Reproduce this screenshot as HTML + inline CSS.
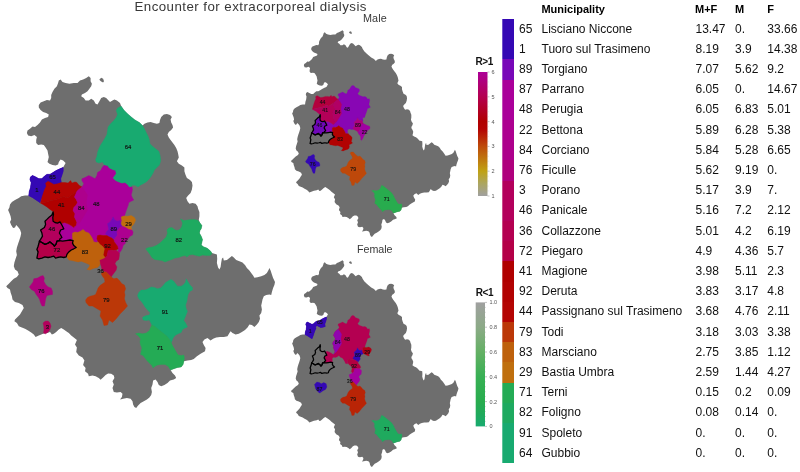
<!DOCTYPE html><html><head><meta charset="utf-8"><title>Encounter for extracorporeal dialysis</title><style>
html,body{margin:0;padding:0;background:#fff}
body{width:800px;height:472px;position:relative;overflow:hidden;font-family:"Liberation Sans",Arial,sans-serif}
.t{position:absolute;white-space:nowrap;color:#111;font-size:12px;line-height:14px}
.h{font-weight:bold;font-size:11px;color:#000}
.ttl{position:absolute;white-space:nowrap;color:#3a3a3a;font-family:"Liberation Sans",Arial,sans-serif}

</style></head><body>
<svg width="800" height="472" viewBox="0 0 800 472" style="position:absolute;left:0;top:0" font-family="Liberation Sans, Arial, sans-serif">
<g><polygon points="32.5,126.5 35.0,126.9 37.5,125.0 40.0,122.5 41.9,119.4 45.0,118.1 48.1,116.9 48.8,114.4 46.2,113.1 43.1,111.9 40.6,110.0 38.8,107.5 38.8,105.0 40.6,102.5 43.8,101.2 46.9,100.0 50.0,100.6 51.2,98.1 51.2,95.0 52.5,91.9 54.4,88.8 56.9,86.2 58.1,83.1 58.8,80.6 60.6,79.4 62.5,81.9 65.6,83.1 69.4,83.8 73.8,83.1 77.5,83.1 80.0,80.6 83.1,79.4 86.2,78.1 88.8,76.2 90.6,78.1 90.6,81.2 91.9,83.8 91.2,86.2 89.4,88.8 87.5,91.2 85.0,93.1 81.9,94.4 81.2,96.2 83.8,98.1 85.6,100.6 88.8,100.6 91.2,98.8 93.8,100.6 95.6,103.8 97.5,104.4 99.4,101.2 101.2,98.1 103.8,96.9 106.2,98.1 108.1,100.0 110.0,101.9 112.5,100.6 114.4,99.4 116.9,100.6 120.0,103.1 121.2,106.2 123.8,110.0 127.5,113.8 131.2,116.9 135.0,120.0 139.4,122.5 142.5,125.6 144.4,123.8 147.5,122.5 150.6,121.9 153.8,123.1 156.9,123.8 159.4,123.1 160.0,120.0 161.2,116.9 163.8,114.4 166.9,114.0 170.0,115.0 171.9,116.9 170.6,119.4 171.2,122.5 172.5,125.0 173.1,127.5 171.2,130.0 168.8,131.9 167.5,134.4 168.8,137.5 170.6,140.0 172.5,142.5 174.4,145.0 176.2,148.1 177.5,151.2 178.1,153.8 178.8,157.5 176.9,161.2 178.8,163.8 181.9,165.6 184.4,167.5 184.4,171.2 185.6,175.0 186.9,178.1 190.0,180.0 191.9,181.9 192.5,185.6 191.9,189.4 190.6,193.1 188.1,195.6 186.2,198.1 187.5,201.2 189.4,203.8 192.5,203.1 195.6,203.8 197.5,206.2 198.1,208.8 199.4,211.9 199.4,216.2 198.8,220.0 200.0,223.1 201.9,225.6 201.2,228.8 200.0,230.6 199.4,233.1 201.2,236.2 202.5,239.4 201.9,242.5 201.2,245.0 203.8,246.9 206.9,248.1 209.4,250.0 211.2,251.9 211.9,253.1 216.9,254.4 217.2,258.8 216.9,263.1 218.1,267.5 219.4,269.4 220.6,266.9 221.2,262.5 221.9,258.8 223.1,257.5 223.8,260.6 226.9,260.0 229.4,258.1 231.9,256.0 233.8,257.5 236.2,260.0 239.4,261.2 242.5,262.5 245.0,265.0 246.9,268.1 249.4,270.6 251.2,273.1 253.1,275.6 254.4,277.8 257.5,277.2 261.2,276.2 264.4,275.0 266.9,273.1 268.8,269.4 269.4,268.1 270.6,270.6 271.9,274.4 273.1,278.1 275.0,281.9 274.4,285.0 273.1,288.1 271.9,291.9 271.2,295.0 269.4,294.4 266.2,295.0 263.8,296.2 262.5,299.4 261.9,302.5 261.2,305.6 261.9,309.4 261.2,313.1 259.4,315.6 260.0,318.8 258.8,321.9 256.9,324.4 254.4,326.9 251.9,325.0 249.4,324.4 247.5,327.5 245.0,330.0 241.9,331.9 238.8,333.8 235.6,334.4 232.5,333.1 230.6,331.2 229.4,333.1 227.5,336.2 223.8,336.9 220.0,336.9 216.2,337.5 213.1,338.8 210.6,340.6 207.5,338.1 204.4,339.4 202.5,341.9 203.8,345.0 205.6,348.1 205.0,351.2 200.6,353.8 196.9,356.2 193.8,359.0 191.2,360.0 187.5,360.6 183.8,361.2 183.1,364.4 181.2,366.9 177.5,367.5 173.8,368.8 170.6,370.0 172.5,373.1 175.0,375.6 176.2,378.1 173.8,379.4 170.0,380.6 167.5,383.1 164.4,385.0 161.2,386.2 158.8,385.0 157.5,381.9 155.6,379.4 153.1,380.6 152.5,384.4 151.2,388.1 151.9,391.9 151.2,395.0 149.4,397.5 146.9,399.4 143.8,401.2 140.6,403.1 138.1,405.6 136.2,408.1 134.4,406.9 133.1,404.4 132.5,401.2 130.6,398.8 126.9,398.1 123.1,398.8 120.0,399.4 121.9,396.9 122.5,393.8 120.6,391.9 116.9,392.5 113.8,391.9 112.5,388.1 113.8,384.4 112.5,381.2 114.4,378.1 113.8,375.6 111.2,373.8 108.1,373.5 105.6,375.0 103.1,377.5 100.6,379.8 98.8,378.1 95.6,376.2 92.5,375.6 88.8,376.2 88.1,373.8 85.0,371.2 85.6,368.1 83.1,365.0 84.4,360.6 82.5,357.5 78.8,355.6 76.2,351.9 76.9,347.5 75.0,344.4 76.9,340.0 73.8,337.5 71.2,335.6 68.8,333.1 66.2,331.2 63.8,329.4 61.2,328.1 58.8,329.4 56.2,331.9 53.8,333.8 51.9,334.4 50.0,331.9 47.5,333.1 43.1,333.8 38.8,335.6 35.6,336.9 33.8,334.4 31.2,332.5 28.1,330.6 25.0,328.8 21.9,327.5 18.8,326.2 16.9,323.1 14.4,321.2 15.0,319.4 17.5,316.9 20.0,314.4 21.9,311.2 23.8,308.1 22.5,305.0 18.8,303.1 15.0,301.9 12.5,299.4 11.9,296.2 10.6,292.5 10.0,289.4 7.5,288.1 6.2,286.2 8.8,283.8 11.2,281.2 13.8,278.8 16.9,276.9 18.8,274.4 17.5,271.2 15.0,269.4 13.8,266.2 14.4,262.5 15.6,258.8 16.9,255.0 16.2,251.2 16.9,247.5 18.1,243.8 19.4,240.0 20.6,236.2 21.2,233.1 20.0,229.4 18.1,226.9 16.2,225.0 15.0,227.5 13.1,228.1 11.2,225.0 10.0,221.9 11.2,219.4 10.6,216.2 9.4,213.1 8.1,210.0 9.4,207.5 10.0,204.4 11.9,201.9 15.0,200.0 18.8,198.1 21.2,196.2 25.0,195.6 28.8,195.6 29.4,191.2 30.6,187.5 31.2,182.5 30.0,179.4 30.6,176.9 32.5,175.6 35.6,176.9 38.8,178.8 41.9,178.8 44.4,176.2 46.9,174.4 50.0,174.4 53.1,172.5 56.2,170.6 60.0,168.8 63.1,167.5 63.8,166.2 65.6,163.1 63.1,160.6 60.6,159.4 58.8,161.9 58.1,164.4 55.6,165.6 52.5,165.0 49.4,163.8 47.5,161.9 48.1,160.0 48.8,156.9 48.1,153.8 47.5,150.6 45.6,147.5 43.8,145.0 41.2,144.4 38.1,145.0 36.2,143.1 36.2,140.0 36.9,136.9 34.4,135.0 31.2,136.2 28.1,135.6 26.9,133.1 27.5,130.6 30.0,128.8" fill="#6e6e6e"/>
<polygon points="99.4,79.4 101.2,77.8 103.1,78.8 104.0,81.2 103.1,82.5 101.2,81.5 100.0,80.6" fill="#6e6e6e"/>
<polygon points="81.9,186.9 83.8,183.8 81.9,180.6 81.9,178.8 85.0,177.5 88.8,175.6 91.9,176.9 95.0,178.8 96.9,175.6 97.5,172.5 100.6,170.6 102.5,166.9 104.4,165.0 107.5,165.6 109.4,168.1 112.5,169.4 115.6,170.6 116.2,173.8 114.4,176.2 113.1,178.1 115.6,180.6 118.8,181.9 121.9,183.1 125.0,182.5 127.5,184.4 129.4,186.9 131.9,186.2 132.5,189.4 131.9,192.5 131.2,195.0 132.5,198.1 133.8,200.0 131.2,201.2 128.8,202.5 128.1,205.6 126.9,208.8 125.6,212.5 124.4,216.2 121.2,216.9 121.9,220.6 121.2,223.8 120.0,220.6 116.9,221.2 114.4,219.4 113.1,216.9 111.9,219.4 110.0,221.9 107.5,223.8 108.1,226.2 108.8,229.4 106.9,231.2 105.6,233.8 106.9,235.6 103.1,235.6 100.0,235.0 97.5,235.6 96.9,238.8 97.5,241.5 96.9,242.5 93.8,241.9 92.5,238.8 90.6,235.6 88.8,233.1 85.6,231.9 83.1,229.4 80.6,231.2 77.5,232.5 75.0,231.9 72.5,233.1 72.5,235.0 72.5,238.1 73.1,240.6 70.0,240.0 66.2,240.6 62.5,241.2 59.4,240.6 60.0,238.8 61.9,237.5 60.6,235.0 59.4,233.1 60.6,230.0 63.8,228.8 62.5,226.2 61.2,223.8 64.4,222.5 68.1,223.8 71.2,225.6 73.8,227.5 76.2,225.6 76.9,222.5 75.6,219.4 74.4,216.9 75.0,213.8 73.1,210.6 73.8,207.5 76.2,205.0 77.5,202.5 76.2,199.4 74.4,196.9 75.6,194.4 76.9,191.2 78.8,189.4 81.9,186.9" fill="#aa009a" stroke="#aa009a" stroke-width="0.4"/>
<polygon points="121.2,106.2 123.8,110.0 127.5,113.8 131.2,116.9 135.0,120.0 139.4,122.5 142.5,125.6 144.4,128.8 146.2,132.5 148.1,136.2 149.4,140.0 150.0,143.8 152.5,146.2 155.6,148.8 158.8,151.2 160.0,155.0 160.6,159.0 160.6,161.2 159.4,165.0 156.9,167.5 154.4,170.0 153.1,173.1 151.2,176.2 148.8,179.4 146.2,181.9 143.1,183.8 140.6,185.0 138.1,186.9 135.6,185.6 132.5,185.0 131.9,186.2 129.4,186.9 127.5,184.4 125.0,182.5 121.9,183.1 118.8,181.9 115.6,180.6 113.1,178.1 114.4,176.2 116.2,173.8 115.6,170.6 112.5,169.4 109.4,168.1 107.5,165.6 104.4,165.0 102.5,161.9 98.8,163.1 96.2,161.9 95.6,159.4 96.9,156.2 97.5,152.5 98.8,148.8 100.6,145.0 103.1,141.2 105.0,138.1 106.9,134.4 107.5,130.6 108.1,126.9 110.6,123.8 113.8,120.6 116.2,117.5 117.5,114.4 116.2,110.6 117.5,108.1" fill="#18aa70" stroke="#18aa70" stroke-width="0.4"/>
<polygon points="30.6,176.9 32.5,175.6 35.6,176.9 38.8,178.8 41.9,178.8 44.4,176.2 46.9,174.4 50.0,174.4 53.1,172.5 56.2,170.6 60.0,168.8 63.1,167.5 63.1,171.2 61.9,175.0 60.6,178.8 61.2,182.5 57.5,183.8 53.8,184.4 50.6,182.5 48.1,181.2 45.6,183.1 46.2,186.2 44.4,190.0 43.1,193.8 41.9,197.5 40.0,202.5 36.2,200.0 32.5,197.5 28.8,195.6 29.4,191.2 30.6,187.5 31.2,182.5 30.0,179.4" fill="#3408b4" stroke="#3408b4" stroke-width="0.4"/>
<polygon points="30.6,176.9 32.5,175.6 35.6,176.9 38.8,178.8 41.9,178.8 44.4,176.2 46.9,174.4 50.0,174.4 53.1,172.5 56.2,170.6 60.0,168.8 63.1,167.5 63.1,171.2 61.9,175.0 60.6,178.8 61.2,182.5 57.5,183.8 53.8,184.4 50.6,182.5 48.1,181.2 45.6,183.1 46.2,186.2 44.4,190.0 43.1,193.8 41.9,197.5 40.0,202.5 36.2,200.0 32.5,197.5 28.8,195.6 29.4,191.2 30.6,187.5 31.2,182.5 30.0,179.4" fill="#3408b4" stroke="#3408b4" stroke-width="0.4"/>
<polygon points="45.6,183.1 48.1,181.2 50.6,182.5 53.8,184.4 57.5,183.8 61.2,182.5 65.0,182.5 68.1,183.1 70.6,180.6 71.9,183.1 75.0,181.9 76.9,182.5 78.8,185.0 81.9,186.9 78.8,189.4 76.9,191.2 76.9,191.2 74.4,193.1 71.2,195.0 68.1,197.5 66.2,198.1 64.4,196.2 61.2,197.5 56.2,199.4 51.2,200.6 46.2,201.9 40.6,203.1 41.9,197.5 43.1,193.8 44.4,190.0 46.2,186.2" fill="#b40503" stroke="#b40503" stroke-width="0.4"/>
<polygon points="40.6,203.1 46.2,201.9 51.2,200.6 56.2,199.4 61.2,197.5 64.4,196.2 66.2,198.1 68.1,197.5 71.2,195.0 74.4,193.1 76.9,191.2 75.6,194.4 74.4,196.9 76.2,199.4 77.5,202.5 76.2,205.0 73.8,207.5 73.1,210.6 75.0,213.8 74.4,216.9 75.6,219.4 76.9,222.5 76.2,225.6 73.8,227.5 71.2,225.6 68.1,223.8 64.4,222.5 61.2,223.8 60.0,221.9 57.5,223.1 55.0,222.5 53.1,221.2 52.8,217.5 53.5,214.4 53.1,211.5 50.0,209.4 46.9,206.9 43.8,205.0 40.6,203.1" fill="#b00000" stroke="#b00000" stroke-width="0.4"/>
<polygon points="81.9,186.9 78.8,189.4 76.9,191.2 75.6,194.4 74.4,196.9 76.2,199.4 77.5,202.5 76.2,205.0 73.8,207.5 73.1,210.6 75.0,213.8 74.4,216.9 75.6,219.4 76.9,222.5 76.2,225.6 73.8,227.5 76.2,226.2 80.0,222.5 83.8,216.2 87.5,210.0 86.2,202.5 87.5,195.0 85.0,191.2" fill="#ad008c" stroke="#ad008c" stroke-width="0.4"/>
<polygon points="113.1,216.9 114.4,219.4 116.9,221.2 120.0,220.6 121.2,223.8 122.5,226.2 120.0,227.5 118.1,229.4 116.9,231.9 117.5,235.0 115.6,237.5 113.8,240.0 111.9,238.1 109.4,236.9 106.9,235.6 105.6,233.8 106.9,231.2 108.8,229.4 108.1,226.2 107.5,223.8 110.0,221.9 111.9,219.4" fill="#7808b8" stroke="#7808b8" stroke-width="0.4"/>
<polygon points="121.2,216.9 123.8,216.0 127.5,216.2 131.2,215.6 134.4,217.5 135.6,220.0 134.4,223.1 133.1,225.0 131.2,226.9 131.9,230.0 128.8,229.4 125.6,227.5 122.5,226.2 121.2,223.8 121.9,220.6" fill="#bf6f0e" stroke="#bf6f0e" stroke-width="0.4"/>
<polygon points="122.5,226.2 125.6,227.5 128.8,229.4 131.9,230.0 133.1,231.9 132.5,235.0 130.0,236.2 128.1,238.8 126.2,241.2 125.0,243.8 123.1,245.6 122.5,248.1 121.2,250.6 119.4,253.1 118.1,251.9 118.1,248.8 117.5,246.2 115.6,243.8 113.8,241.2 113.8,240.0 115.6,237.5 117.5,235.0 116.9,231.9 118.1,229.4 120.0,227.5" fill="#ad0090" stroke="#ad0090" stroke-width="0.4"/>
<polygon points="97.5,235.6 100.0,235.0 103.1,235.6 106.9,235.6 109.4,236.9 111.9,238.1 113.8,240.0 113.8,241.2 115.6,243.8 117.5,246.2 118.1,248.8 116.2,250.0 113.8,250.6 111.2,250.0 109.4,251.2 107.5,253.1 106.9,256.2 105.0,257.5 103.1,255.0 103.8,251.9 104.4,248.8 102.5,246.2 100.0,244.4 98.1,241.9 96.9,238.8" fill="#b20202" stroke="#b20202" stroke-width="0.4"/>
<polygon points="108.1,250.6 111.2,250.0 113.8,250.6 116.2,250.0 118.1,251.9 119.4,253.1 119.4,255.6 118.8,259.4 116.2,261.2 115.0,263.8 116.9,266.9 116.2,270.0 114.4,272.5 112.5,275.0 111.2,276.9 108.8,274.4 106.2,271.9 103.8,271.2 101.9,269.4 101.2,266.2 100.0,263.1 99.4,260.0 102.5,258.8 105.0,257.5 106.9,256.2 107.5,253.1" fill="#b40051" stroke="#b40051" stroke-width="0.4"/>
<polygon points="72.5,233.1 75.0,231.9 77.5,232.5 80.6,231.2 83.1,229.4 85.6,231.9 88.8,233.1 90.6,235.6 92.5,238.8 93.8,241.9 96.9,242.5 98.1,241.9 100.0,244.4 102.5,246.2 104.4,248.8 103.8,251.9 103.1,255.0 105.0,257.5 102.5,258.8 99.4,260.0 100.0,263.1 99.4,265.6 97.5,267.5 95.0,268.1 92.5,268.8 90.0,270.0 86.9,269.4 88.8,267.5 90.0,265.0 87.5,263.8 84.4,262.5 81.2,261.2 78.1,261.9 75.0,261.2 71.9,260.6 68.8,260.0 66.9,256.9 66.9,254.4 68.8,251.9 71.2,250.0 73.8,248.8 76.2,247.5 73.8,245.6 72.5,243.1 73.1,240.6 72.5,238.1 72.5,235.0" fill="#be610c" stroke="#be610c" stroke-width="0.4"/>
<polygon points="53.1,211.9 51.9,215.0 49.4,216.9 46.9,219.4 45.0,221.2 45.6,224.4 44.4,227.5 40.6,230.0 41.9,233.1 42.5,236.2 40.6,239.4 39.4,241.2 41.9,242.5 45.0,244.4 48.1,243.1 50.0,241.9 53.1,244.4 54.4,246.2 56.2,243.8 56.9,241.2 59.4,240.6 60.0,238.8 61.9,237.5 60.6,235.0 59.4,233.1 60.6,230.0 63.8,228.8 62.5,226.2 61.2,223.8 60.0,221.9 57.5,223.1 55.0,222.5 53.1,221.2 52.8,217.5 53.5,214.4" fill="#b3005c" stroke="#b3005c" stroke-width="0.4"/>
<polygon points="39.4,241.2 41.9,242.5 45.0,244.4 48.1,243.1 50.0,241.9 53.1,244.4 54.4,246.2 56.2,243.8 56.9,241.2 59.4,240.6 62.5,241.2 66.2,240.6 70.0,240.0 73.1,240.6 72.5,243.1 73.8,245.6 76.2,247.5 73.8,248.8 71.2,250.0 68.8,251.9 66.9,254.4 66.2,256.9 63.8,257.5 60.6,256.9 57.5,257.5 55.6,258.1 53.8,256.2 51.2,256.9 48.1,257.5 45.0,256.9 41.9,258.1 38.8,258.8 36.9,258.1 37.5,255.0 38.1,251.9 36.9,249.4 38.1,246.2 38.8,243.8" fill="#b40048" stroke="#b40048" stroke-width="0.4"/>
<polygon points="145.6,248.8 148.8,247.5 152.5,246.9 156.2,245.6 160.0,243.1 163.1,240.0 166.2,236.9 167.5,233.1 166.9,230.0 168.8,228.1 171.9,227.5 174.4,229.4 176.9,230.6 180.0,229.4 181.9,226.2 182.5,223.1 181.2,220.0 180.6,218.8 183.8,220.6 187.5,220.0 191.2,219.4 195.0,219.4 198.1,220.6 200.0,223.1 201.9,225.6 201.2,228.8 200.0,230.6 199.4,233.1 201.2,236.2 202.5,239.4 201.9,242.5 201.2,245.0 203.8,246.9 206.9,248.1 209.4,250.0 211.2,251.9 211.9,253.8 210.0,255.6 206.2,255.6 202.5,255.0 199.4,256.2 196.2,255.6 192.5,254.4 189.4,255.0 186.9,256.9 185.0,255.6 181.9,256.2 178.8,257.5 175.0,258.1 171.9,259.4 168.8,260.6 165.0,261.9 161.9,260.6 158.1,260.0 154.4,259.4 151.9,257.5 150.0,254.4 148.1,251.9" fill="#1eaa60" stroke="#1eaa60" stroke-width="0.4"/>
<polygon points="29.4,286.9 31.2,284.4 33.1,281.9 33.8,278.8 37.5,278.1 40.6,276.2 43.1,275.6 44.4,278.1 43.8,281.2 45.6,284.4 48.1,286.9 51.2,288.1 52.5,291.2 52.5,294.4 49.4,295.0 46.9,295.6 45.6,299.0 45.0,303.0 44.4,306.0 42.0,306.0 40.6,303.0 39.4,299.0 38.1,296.9 36.2,294.4 34.4,291.2 31.2,289.4" fill="#af007d" stroke="#af007d" stroke-width="0.4"/>
<polygon points="43.1,323.1 45.0,321.2 48.1,321.0 50.0,323.1 51.0,326.2 50.0,329.4 48.1,331.9 45.6,333.8 43.5,333.1 44.0,330.0 43.8,326.2" fill="#b3005c" stroke="#b3005c" stroke-width="0.4"/>
<polygon points="101.2,273.8 102.5,271.9 106.2,271.9 108.8,274.4 111.2,276.9 113.8,278.8 116.9,278.1 119.4,280.6 121.9,283.8 124.4,285.0 125.6,288.8 124.4,291.9 125.0,295.0 124.4,298.8 125.6,302.5 127.5,306.0 124.0,310.0 120.0,314.0 116.0,319.0 112.5,322.5 109.0,320.0 107.5,325.0 104.0,325.5 102.5,320.0 100.0,316.0 101.0,311.0 97.5,309.0 92.5,306.0 89.0,306.0 86.0,302.5 85.6,300.0 87.5,297.5 90.0,296.2 93.1,295.6 95.6,294.4 96.9,291.2 98.1,288.1 100.0,285.6 102.5,283.8 105.0,281.9 104.4,278.8 102.5,276.2" fill="#bb3808" stroke="#bb3808" stroke-width="0.4"/>
<polygon points="137.5,295.6 138.8,292.5 141.2,290.0 145.0,290.0 148.1,288.8 151.2,286.9 154.4,287.5 157.5,288.8 160.6,288.1 163.1,285.6 165.6,282.5 168.8,280.6 171.2,279.4 173.8,281.2 175.6,283.8 177.5,286.2 181.2,286.2 183.8,284.4 185.6,281.9 186.2,278.8 188.1,281.9 190.0,285.0 192.5,287.5 192.5,290.0 190.0,291.2 188.1,294.4 187.5,297.5 186.9,301.2 185.6,305.0 186.2,308.8 187.5,311.2 186.2,314.4 185.0,317.5 183.8,320.6 185.6,323.1 187.5,326.9 185.0,328.1 182.5,329.4 181.2,332.5 178.1,333.8 175.0,335.6 173.1,338.1 171.9,341.2 171.2,342.5 169.4,339.4 166.9,336.2 163.8,333.8 160.6,331.2 157.5,328.8 154.4,326.2 151.9,325.0 150.6,322.5 149.4,320.0 146.2,320.6 143.1,320.0 142.5,317.5 143.1,316.9 146.2,315.6 149.4,315.0 150.0,312.5 147.5,310.0 145.0,306.9 143.1,303.8 141.2,301.2 138.8,298.8" fill="#18aa70" stroke="#18aa70" stroke-width="0.4"/>
<polygon points="135.6,333.8 138.8,333.1 142.5,333.8 146.2,333.1 149.4,330.6 150.6,327.5 151.9,325.0 154.4,326.2 157.5,328.8 160.6,331.2 163.8,333.8 166.9,336.2 169.4,339.4 171.2,342.5 172.5,345.6 174.4,348.8 176.2,351.9 178.1,355.0 181.2,355.6 183.8,355.0 184.4,358.1 183.8,361.2 183.1,364.4 181.2,366.9 177.5,367.5 173.8,368.8 170.6,370.0 168.1,366.2 165.0,364.4 161.2,364.4 157.5,365.0 155.0,366.2 153.1,368.1 151.9,365.6 149.4,363.1 146.9,360.6 145.0,358.1 143.1,355.6 140.6,354.4 141.2,351.2 141.9,348.1 140.6,345.0 140.0,341.9 140.6,338.8 138.8,336.2" fill="#24ab55" stroke="#24ab55" stroke-width="0.4"/>
<polygon points="53.1,211.9 51.9,215.0 49.4,216.9 46.9,219.4 45.0,221.2 45.6,224.4 44.4,227.5 40.6,230.0 41.9,233.1 42.5,236.2 40.6,239.4 39.4,241.2 41.9,242.5 45.0,244.4 48.1,243.1 50.0,241.9 53.1,244.4 54.4,246.2 56.2,243.8 56.9,241.2 59.4,240.6 60.0,238.8 61.9,237.5 60.6,235.0 59.4,233.1 60.6,230.0 63.8,228.8 62.5,226.2 61.2,223.8 60.0,221.9 57.5,223.1 55.0,222.5 53.1,221.2 52.8,217.5 53.5,214.4" fill="none" stroke="#000" stroke-width="1.3" stroke-linejoin="round"/>
<polygon points="39.4,241.2 41.9,242.5 45.0,244.4 48.1,243.1 50.0,241.9 53.1,244.4 54.4,246.2 56.2,243.8 56.9,241.2 59.4,240.6 62.5,241.2 66.2,240.6 70.0,240.0 73.1,240.6 72.5,243.1 73.8,245.6 76.2,247.5 73.8,248.8 71.2,250.0 68.8,251.9 66.9,254.4 66.2,256.9 63.8,257.5 60.6,256.9 57.5,257.5 55.6,258.1 53.8,256.2 51.2,256.9 48.1,257.5 45.0,256.9 41.9,258.1 38.8,258.8 36.9,258.1 37.5,255.0 38.1,251.9 36.9,249.4 38.1,246.2 38.8,243.8" fill="none" stroke="#000" stroke-width="1.3" stroke-linejoin="round"/>
<text x="96.2" y="205.6" font-size="5.9" text-anchor="middle" fill="#101010" stroke="#101010" stroke-width="0.15">48</text>
<text x="128.1" y="149.0" font-size="5.9" text-anchor="middle" fill="#101010" stroke="#101010" stroke-width="0.15">64</text>
<text x="36.9" y="191.8" font-size="5.9" text-anchor="middle" fill="#101010" stroke="#101010" stroke-width="0.15">1</text>
<text x="52.5" y="178.6" font-size="5.9" text-anchor="middle" fill="#101010" stroke="#101010" stroke-width="0.15">65</text>
<text x="56.9" y="194.3" font-size="5.9" text-anchor="middle" fill="#101010" stroke="#101010" stroke-width="0.15">44</text>
<text x="61.2" y="206.8" font-size="5.9" text-anchor="middle" fill="#101010" stroke="#101010" stroke-width="0.15">41</text>
<text x="81.2" y="209.6" font-size="5.9" text-anchor="middle" fill="#101010" stroke="#101010" stroke-width="0.15">84</text>
<text x="113.8" y="230.8" font-size="5.9" text-anchor="middle" fill="#101010" stroke="#101010" stroke-width="0.15">89</text>
<text x="128.5" y="225.5" font-size="5.9" text-anchor="middle" fill="#101010" stroke="#101010" stroke-width="0.15">29</text>
<text x="124.4" y="241.7" font-size="5.9" text-anchor="middle" fill="#101010" stroke="#101010" stroke-width="0.15">22</text>
<text x="107.5" y="248.3" font-size="5.9" text-anchor="middle" fill="#101010" stroke="#101010" stroke-width="0.15">92</text>
<text x="100.6" y="272.7" font-size="5.9" text-anchor="middle" fill="#101010" stroke="#101010" stroke-width="0.15">36</text>
<text x="85.0" y="253.6" font-size="5.9" text-anchor="middle" fill="#101010" stroke="#101010" stroke-width="0.15">83</text>
<text x="51.9" y="230.8" font-size="5.9" text-anchor="middle" fill="#101010" stroke="#101010" stroke-width="0.15">46</text>
<text x="56.9" y="251.5" font-size="5.9" text-anchor="middle" fill="#101010" stroke="#101010" stroke-width="0.15">72</text>
<text x="178.8" y="242.1" font-size="5.9" text-anchor="middle" fill="#101010" stroke="#101010" stroke-width="0.15">82</text>
<text x="41.2" y="293.3" font-size="5.9" text-anchor="middle" fill="#101010" stroke="#101010" stroke-width="0.15">76</text>
<text x="47.5" y="329.1" font-size="5.9" text-anchor="middle" fill="#101010" stroke="#101010" stroke-width="0.15">3</text>
<text x="106.2" y="301.5" font-size="5.9" text-anchor="middle" fill="#101010" stroke="#101010" stroke-width="0.15">79</text>
<text x="165.0" y="313.8" font-size="5.9" text-anchor="middle" fill="#101010" stroke="#101010" stroke-width="0.15">91</text>
<text x="160.0" y="349.6" font-size="5.9" text-anchor="middle" fill="#101010" stroke="#101010" stroke-width="0.15">71</text></g>
<g transform="translate(287.1,-17.3) scale(0.623)"><polygon points="32.5,126.5 35.0,126.9 37.5,125.0 40.0,122.5 41.9,119.4 45.0,118.1 48.1,116.9 48.8,114.4 46.2,113.1 43.1,111.9 40.6,110.0 38.8,107.5 38.8,105.0 40.6,102.5 43.8,101.2 46.9,100.0 50.0,100.6 51.2,98.1 51.2,95.0 52.5,91.9 54.4,88.8 56.9,86.2 58.1,83.1 58.8,80.6 60.6,79.4 62.5,81.9 65.6,83.1 69.4,83.8 73.8,83.1 77.5,83.1 80.0,80.6 83.1,79.4 86.2,78.1 88.8,76.2 90.6,78.1 90.6,81.2 91.9,83.8 91.2,86.2 89.4,88.8 87.5,91.2 85.0,93.1 81.9,94.4 81.2,96.2 83.8,98.1 85.6,100.6 88.8,100.6 91.2,98.8 93.8,100.6 95.6,103.8 97.5,104.4 99.4,101.2 101.2,98.1 103.8,96.9 106.2,98.1 108.1,100.0 110.0,101.9 112.5,100.6 114.4,99.4 116.9,100.6 120.0,103.1 121.2,106.2 123.8,110.0 127.5,113.8 131.2,116.9 135.0,120.0 139.4,122.5 142.5,125.6 144.4,123.8 147.5,122.5 150.6,121.9 153.8,123.1 156.9,123.8 159.4,123.1 160.0,120.0 161.2,116.9 163.8,114.4 166.9,114.0 170.0,115.0 171.9,116.9 170.6,119.4 171.2,122.5 172.5,125.0 173.1,127.5 171.2,130.0 168.8,131.9 167.5,134.4 168.8,137.5 170.6,140.0 172.5,142.5 174.4,145.0 176.2,148.1 177.5,151.2 178.1,153.8 178.8,157.5 176.9,161.2 178.8,163.8 181.9,165.6 184.4,167.5 184.4,171.2 185.6,175.0 186.9,178.1 190.0,180.0 191.9,181.9 192.5,185.6 191.9,189.4 190.6,193.1 188.1,195.6 186.2,198.1 187.5,201.2 189.4,203.8 192.5,203.1 195.6,203.8 197.5,206.2 198.1,208.8 199.4,211.9 199.4,216.2 198.8,220.0 200.0,223.1 201.9,225.6 201.2,228.8 200.0,230.6 199.4,233.1 201.2,236.2 202.5,239.4 201.9,242.5 201.2,245.0 203.8,246.9 206.9,248.1 209.4,250.0 211.2,251.9 211.9,253.1 216.9,254.4 217.2,258.8 216.9,263.1 218.1,267.5 219.4,269.4 220.6,266.9 221.2,262.5 221.9,258.8 223.1,257.5 223.8,260.6 226.9,260.0 229.4,258.1 231.9,256.0 233.8,257.5 236.2,260.0 239.4,261.2 242.5,262.5 245.0,265.0 246.9,268.1 249.4,270.6 251.2,273.1 253.1,275.6 254.4,277.8 257.5,277.2 261.2,276.2 264.4,275.0 266.9,273.1 268.8,269.4 269.4,268.1 270.6,270.6 271.9,274.4 273.1,278.1 275.0,281.9 274.4,285.0 273.1,288.1 271.9,291.9 271.2,295.0 269.4,294.4 266.2,295.0 263.8,296.2 262.5,299.4 261.9,302.5 261.2,305.6 261.9,309.4 261.2,313.1 259.4,315.6 260.0,318.8 258.8,321.9 256.9,324.4 254.4,326.9 251.9,325.0 249.4,324.4 247.5,327.5 245.0,330.0 241.9,331.9 238.8,333.8 235.6,334.4 232.5,333.1 230.6,331.2 229.4,333.1 227.5,336.2 223.8,336.9 220.0,336.9 216.2,337.5 213.1,338.8 210.6,340.6 207.5,338.1 204.4,339.4 202.5,341.9 203.8,345.0 205.6,348.1 205.0,351.2 200.6,353.8 196.9,356.2 193.8,359.0 191.2,360.0 187.5,360.6 183.8,361.2 183.1,364.4 181.2,366.9 177.5,367.5 173.8,368.8 170.6,370.0 172.5,373.1 175.0,375.6 176.2,378.1 173.8,379.4 170.0,380.6 167.5,383.1 164.4,385.0 161.2,386.2 158.8,385.0 157.5,381.9 155.6,379.4 153.1,380.6 152.5,384.4 151.2,388.1 151.9,391.9 151.2,395.0 149.4,397.5 146.9,399.4 143.8,401.2 140.6,403.1 138.1,405.6 136.2,408.1 134.4,406.9 133.1,404.4 132.5,401.2 130.6,398.8 126.9,398.1 123.1,398.8 120.0,399.4 121.9,396.9 122.5,393.8 120.6,391.9 116.9,392.5 113.8,391.9 112.5,388.1 113.8,384.4 112.5,381.2 114.4,378.1 113.8,375.6 111.2,373.8 108.1,373.5 105.6,375.0 103.1,377.5 100.6,379.8 98.8,378.1 95.6,376.2 92.5,375.6 88.8,376.2 88.1,373.8 85.0,371.2 85.6,368.1 83.1,365.0 84.4,360.6 82.5,357.5 78.8,355.6 76.2,351.9 76.9,347.5 75.0,344.4 76.9,340.0 73.8,337.5 71.2,335.6 68.8,333.1 66.2,331.2 63.8,329.4 61.2,328.1 58.8,329.4 56.2,331.9 53.8,333.8 51.9,334.4 50.0,331.9 47.5,333.1 43.1,333.8 38.8,335.6 35.6,336.9 33.8,334.4 31.2,332.5 28.1,330.6 25.0,328.8 21.9,327.5 18.8,326.2 16.9,323.1 14.4,321.2 15.0,319.4 17.5,316.9 20.0,314.4 21.9,311.2 23.8,308.1 22.5,305.0 18.8,303.1 15.0,301.9 12.5,299.4 11.9,296.2 10.6,292.5 10.0,289.4 7.5,288.1 6.2,286.2 8.8,283.8 11.2,281.2 13.8,278.8 16.9,276.9 18.8,274.4 17.5,271.2 15.0,269.4 13.8,266.2 14.4,262.5 15.6,258.8 16.9,255.0 16.2,251.2 16.9,247.5 18.1,243.8 19.4,240.0 20.6,236.2 21.2,233.1 20.0,229.4 18.1,226.9 16.2,225.0 15.0,227.5 13.1,228.1 11.2,225.0 10.0,221.9 11.2,219.4 10.6,216.2 9.4,213.1 8.1,210.0 9.4,207.5 10.0,204.4 11.9,201.9 15.0,200.0 18.8,198.1 21.2,196.2 25.0,195.6 28.8,195.6 29.4,191.2 30.6,187.5 31.2,182.5 30.0,179.4 30.6,176.9 32.5,175.6 35.6,176.9 38.8,178.8 41.9,178.8 44.4,176.2 46.9,174.4 50.0,174.4 53.1,172.5 56.2,170.6 60.0,168.8 63.1,167.5 63.8,166.2 65.6,163.1 63.1,160.6 60.6,159.4 58.8,161.9 58.1,164.4 55.6,165.6 52.5,165.0 49.4,163.8 47.5,161.9 48.1,160.0 48.8,156.9 48.1,153.8 47.5,150.6 45.6,147.5 43.8,145.0 41.2,144.4 38.1,145.0 36.2,143.1 36.2,140.0 36.9,136.9 34.4,135.0 31.2,136.2 28.1,135.6 26.9,133.1 27.5,130.6 30.0,128.8" fill="#6e6e6e"/>
<polygon points="99.4,79.4 101.2,77.8 103.1,78.8 104.0,81.2 103.1,82.5 101.2,81.5 100.0,80.6" fill="#6e6e6e"/>
<polygon points="81.9,186.9 83.8,183.8 81.9,180.6 81.9,178.8 85.0,177.5 88.8,175.6 91.9,176.9 95.0,178.8 96.9,175.6 97.5,172.5 100.6,170.6 102.5,166.9 104.4,165.0 107.5,165.6 109.4,168.1 112.5,169.4 115.6,170.6 116.2,173.8 114.4,176.2 113.1,178.1 115.6,180.6 118.8,181.9 121.9,183.1 125.0,182.5 127.5,184.4 129.4,186.9 131.9,186.2 132.5,189.4 131.9,192.5 131.2,195.0 132.5,198.1 133.8,200.0 131.2,201.2 128.8,202.5 128.1,205.6 126.9,208.8 125.6,212.5 124.4,216.2 121.2,216.9 121.9,220.6 121.2,223.8 120.0,220.6 116.9,221.2 114.4,219.4 113.1,216.9 111.9,219.4 110.0,221.9 107.5,223.8 108.1,226.2 108.8,229.4 106.9,231.2 105.6,233.8 106.9,235.6 103.1,235.6 100.0,235.0 97.5,235.6 96.9,238.8 97.5,241.5 96.9,242.5 93.8,241.9 92.5,238.8 90.6,235.6 88.8,233.1 85.6,231.9 83.1,229.4 80.6,231.2 77.5,232.5 75.0,231.9 72.5,233.1 72.5,235.0 72.5,238.1 73.1,240.6 70.0,240.0 66.2,240.6 62.5,241.2 59.4,240.6 60.0,238.8 61.9,237.5 60.6,235.0 59.4,233.1 60.6,230.0 63.8,228.8 62.5,226.2 61.2,223.8 64.4,222.5 68.1,223.8 71.2,225.6 73.8,227.5 76.2,225.6 76.9,222.5 75.6,219.4 74.4,216.9 75.0,213.8 73.1,210.6 73.8,207.5 76.2,205.0 77.5,202.5 76.2,199.4 74.4,196.9 75.6,194.4 76.9,191.2 78.8,189.4 81.9,186.9" fill="#8806b4" stroke="#8806b4" stroke-width="0.4"/>
<polygon points="45.6,183.1 48.1,181.2 50.6,182.5 53.8,184.4 57.5,183.8 61.2,182.5 65.0,182.5 68.1,183.1 70.6,180.6 71.9,183.1 75.0,181.9 76.9,182.5 78.8,185.0 81.9,186.9 78.8,189.4 76.9,191.2 76.9,191.2 74.4,193.1 71.2,195.0 68.1,197.5 66.2,198.1 64.4,196.2 61.2,197.5 56.2,199.4 51.2,200.6 46.2,201.9 40.6,203.1 41.9,197.5 43.1,193.8 44.4,190.0 46.2,186.2" fill="#b3003d" stroke="#b3003d" stroke-width="0.4"/>
<polygon points="40.6,203.1 46.2,201.9 51.2,200.6 56.2,199.4 61.2,197.5 64.4,196.2 66.2,198.1 68.1,197.5 71.2,195.0 74.4,193.1 76.9,191.2 75.6,194.4 74.4,196.9 76.2,199.4 77.5,202.5 76.2,205.0 73.8,207.5 73.1,210.6 75.0,213.8 74.4,216.9 75.6,219.4 76.9,222.5 76.2,225.6 73.8,227.5 71.2,225.6 68.1,223.8 64.4,222.5 61.2,223.8 60.0,221.9 57.5,223.1 55.0,222.5 53.1,221.2 52.8,217.5 53.5,214.4 53.1,211.5 50.0,209.4 46.9,206.9 43.8,205.0 40.6,203.1" fill="#b30058" stroke="#b30058" stroke-width="0.4"/>
<polygon points="81.9,186.9 78.8,189.4 76.9,191.2 75.6,194.4 74.4,196.9 76.2,199.4 77.5,202.5 76.2,205.0 73.8,207.5 73.1,210.6 75.0,213.8 74.4,216.9 75.6,219.4 76.9,222.5 76.2,225.6 73.8,227.5 76.2,226.2 80.0,222.5 83.8,216.2 87.5,210.0 86.2,202.5 87.5,195.0 85.0,191.2" fill="#b20064" stroke="#b20064" stroke-width="0.4"/>
<polygon points="113.1,216.9 114.4,219.4 116.9,221.2 120.0,220.6 121.2,223.8 122.5,226.2 120.0,227.5 118.1,229.4 116.9,231.9 117.5,235.0 115.6,237.5 113.8,240.0 111.9,238.1 109.4,236.9 106.9,235.6 105.6,233.8 106.9,231.2 108.8,229.4 108.1,226.2 107.5,223.8 110.0,221.9 111.9,219.4" fill="#af007d" stroke="#af007d" stroke-width="0.4"/>
<polygon points="122.5,226.2 125.6,227.5 128.8,229.4 131.9,230.0 133.1,231.9 132.5,235.0 130.0,236.2 128.1,238.8 126.2,241.2 125.0,243.8 123.1,245.6 122.5,248.1 121.2,250.6 119.4,253.1 118.1,251.9 118.1,248.8 117.5,246.2 115.6,243.8 113.8,241.2 113.8,240.0 115.6,237.5 117.5,235.0 116.9,231.9 118.1,229.4 120.0,227.5" fill="#a002a2" stroke="#a002a2" stroke-width="0.4"/>
<polygon points="53.1,211.9 51.9,215.0 49.4,216.9 46.9,219.4 45.0,221.2 45.6,224.4 44.4,227.5 40.6,230.0 41.9,233.1 42.5,236.2 40.6,239.4 39.4,241.2 41.9,242.5 45.0,244.4 48.1,243.1 50.0,241.9 53.1,244.4 54.4,246.2 56.2,243.8 56.9,241.2 59.4,240.6 60.0,238.8 61.9,237.5 60.6,235.0 59.4,233.1 60.6,230.0 63.8,228.8 62.5,226.2 61.2,223.8 60.0,221.9 57.5,223.1 55.0,222.5 53.1,221.2 52.8,217.5 53.5,214.4" fill="#6f08b8" stroke="#6f08b8" stroke-width="0.4"/>
<polygon points="39.4,241.2 41.9,242.5 45.0,244.4 48.1,243.1 50.0,241.9 53.1,244.4 54.4,246.2 56.2,243.8 56.9,241.2 59.4,240.6 62.5,241.2 66.2,240.6 70.0,240.0 73.1,240.6 72.5,243.1 73.8,245.6 76.2,247.5 73.8,248.8 71.2,250.0 68.8,251.9 66.9,254.4 66.2,256.9 63.8,257.5 60.6,256.9 57.5,257.5 55.6,258.1 53.8,256.2 51.2,256.9 48.1,257.5 45.0,256.9 41.9,258.1 38.8,258.8 36.9,258.1 37.5,255.0 38.1,251.9 36.9,249.4 38.1,246.2 38.8,243.8" fill="#6e6e6e" stroke="#6e6e6e" stroke-width="0.4"/>
<polygon points="72.5,233.1 75.0,231.9 77.5,232.5 80.6,231.2 83.1,229.4 85.6,231.9 88.8,233.1 90.6,235.6 92.5,238.8 93.8,241.9 96.9,242.5 98.1,241.9 100.0,244.4 102.5,246.2 104.4,248.8 103.8,251.9 103.1,255.0 105.0,257.5 102.5,258.8 99.4,260.0 100.0,263.1 99.4,265.6 97.5,267.5 95.0,268.1 92.5,268.8 90.0,270.0 86.9,269.4 88.8,267.5 90.0,265.0 87.5,263.8 84.4,262.5 81.2,261.2 78.1,261.9 75.0,261.2 71.9,260.6 68.8,260.0 66.9,256.9 66.9,254.4 68.8,251.9 71.2,250.0 73.8,248.8 76.2,247.5 73.8,245.6 72.5,243.1 73.1,240.6 72.5,238.1 72.5,235.0" fill="#b20202" stroke="#b20202" stroke-width="0.4"/>
<polygon points="29.4,286.9 31.2,284.4 33.1,281.9 33.8,278.8 37.5,278.1 40.6,276.2 43.1,275.6 44.4,278.1 43.8,281.2 45.6,284.4 48.1,286.9 51.2,288.1 52.5,291.2 52.5,294.4 49.4,295.0 46.9,295.6 45.6,299.0 45.0,303.0 44.4,306.0 42.0,306.0 40.6,303.0 39.4,299.0 38.1,296.9 36.2,294.4 34.4,291.2 31.2,289.4" fill="#3408b4" stroke="#3408b4" stroke-width="0.4"/>
<polygon points="101.2,273.8 102.5,271.9 106.2,271.9 108.8,274.4 111.2,276.9 113.8,278.8 116.9,278.1 119.4,280.6 121.9,283.8 124.4,285.0 125.6,288.8 124.4,291.9 125.0,295.0 124.4,298.8 125.6,302.5 127.5,306.0 124.0,310.0 120.0,314.0 116.0,319.0 112.5,322.5 109.0,320.0 107.5,325.0 104.0,325.5 102.5,320.0 100.0,316.0 101.0,311.0 97.5,309.0 92.5,306.0 89.0,306.0 86.0,302.5 85.6,300.0 87.5,297.5 90.0,296.2 93.1,295.6 95.6,294.4 96.9,291.2 98.1,288.1 100.0,285.6 102.5,283.8 105.0,281.9 104.4,278.8 102.5,276.2" fill="#be480a" stroke="#be480a" stroke-width="0.4"/>
<polygon points="135.6,333.8 138.8,333.1 142.5,333.8 146.2,333.1 149.4,330.6 150.6,327.5 151.9,325.0 154.4,326.2 157.5,328.8 160.6,331.2 163.8,333.8 166.9,336.2 169.4,339.4 171.2,342.5 172.5,345.6 174.4,348.8 176.2,351.9 178.1,355.0 181.2,355.6 183.8,355.0 184.4,358.1 183.8,361.2 183.1,364.4 181.2,366.9 177.5,367.5 173.8,368.8 170.6,370.0 168.1,366.2 165.0,364.4 161.2,364.4 157.5,365.0 155.0,366.2 153.1,368.1 151.9,365.6 149.4,363.1 146.9,360.6 145.0,358.1 143.1,355.6 140.6,354.4 141.2,351.2 141.9,348.1 140.6,345.0 140.0,341.9 140.6,338.8 138.8,336.2" fill="#28ac4e" stroke="#28ac4e" stroke-width="0.4"/>
<polygon points="53.1,211.9 51.9,215.0 49.4,216.9 46.9,219.4 45.0,221.2 45.6,224.4 44.4,227.5 40.6,230.0 41.9,233.1 42.5,236.2 40.6,239.4 39.4,241.2 41.9,242.5 45.0,244.4 48.1,243.1 50.0,241.9 53.1,244.4 54.4,246.2 56.2,243.8 56.9,241.2 59.4,240.6 60.0,238.8 61.9,237.5 60.6,235.0 59.4,233.1 60.6,230.0 63.8,228.8 62.5,226.2 61.2,223.8 60.0,221.9 57.5,223.1 55.0,222.5 53.1,221.2 52.8,217.5 53.5,214.4" fill="none" stroke="#000" stroke-width="2.0" stroke-linejoin="round"/>
<polygon points="39.4,241.2 41.9,242.5 45.0,244.4 48.1,243.1 50.0,241.9 53.1,244.4 54.4,246.2 56.2,243.8 56.9,241.2 59.4,240.6 62.5,241.2 66.2,240.6 70.0,240.0 73.1,240.6 72.5,243.1 73.8,245.6 76.2,247.5 73.8,248.8 71.2,250.0 68.8,251.9 66.9,254.4 66.2,256.9 63.8,257.5 60.6,256.9 57.5,257.5 55.6,258.1 53.8,256.2 51.2,256.9 48.1,257.5 45.0,256.9 41.9,258.1 38.8,258.8 36.9,258.1 37.5,255.0 38.1,251.9 36.9,249.4 38.1,246.2 38.8,243.8" fill="none" stroke="#000" stroke-width="2.0" stroke-linejoin="round"/>
<text x="96.2" y="206.4" font-size="8.4" text-anchor="middle" fill="#101010" stroke="#101010" stroke-width="0.15">48</text>
<text x="56.9" y="195.2" font-size="8.4" text-anchor="middle" fill="#101010" stroke="#101010" stroke-width="0.15">44</text>
<text x="61.2" y="207.7" font-size="8.4" text-anchor="middle" fill="#101010" stroke="#101010" stroke-width="0.15">41</text>
<text x="81.2" y="210.4" font-size="8.4" text-anchor="middle" fill="#101010" stroke="#101010" stroke-width="0.15">84</text>
<text x="113.8" y="231.7" font-size="8.4" text-anchor="middle" fill="#101010" stroke="#101010" stroke-width="0.15">89</text>
<text x="124.4" y="242.5" font-size="8.4" text-anchor="middle" fill="#101010" stroke="#101010" stroke-width="0.15">22</text>
<text x="51.9" y="231.7" font-size="8.4" text-anchor="middle" fill="#101010" stroke="#101010" stroke-width="0.15">46</text>
<text x="85.0" y="254.4" font-size="8.4" text-anchor="middle" fill="#101010" stroke="#101010" stroke-width="0.15">83</text>
<text x="41.2" y="294.2" font-size="8.4" text-anchor="middle" fill="#101010" stroke="#101010" stroke-width="0.15">76</text>
<text x="106.2" y="302.3" font-size="8.4" text-anchor="middle" fill="#101010" stroke="#101010" stroke-width="0.15">79</text>
<text x="160.0" y="350.4" font-size="8.4" text-anchor="middle" fill="#101010" stroke="#101010" stroke-width="0.15">71</text></g>
<g transform="translate(287.1,212.7) scale(0.623)"><polygon points="32.5,126.5 35.0,126.9 37.5,125.0 40.0,122.5 41.9,119.4 45.0,118.1 48.1,116.9 48.8,114.4 46.2,113.1 43.1,111.9 40.6,110.0 38.8,107.5 38.8,105.0 40.6,102.5 43.8,101.2 46.9,100.0 50.0,100.6 51.2,98.1 51.2,95.0 52.5,91.9 54.4,88.8 56.9,86.2 58.1,83.1 58.8,80.6 60.6,79.4 62.5,81.9 65.6,83.1 69.4,83.8 73.8,83.1 77.5,83.1 80.0,80.6 83.1,79.4 86.2,78.1 88.8,76.2 90.6,78.1 90.6,81.2 91.9,83.8 91.2,86.2 89.4,88.8 87.5,91.2 85.0,93.1 81.9,94.4 81.2,96.2 83.8,98.1 85.6,100.6 88.8,100.6 91.2,98.8 93.8,100.6 95.6,103.8 97.5,104.4 99.4,101.2 101.2,98.1 103.8,96.9 106.2,98.1 108.1,100.0 110.0,101.9 112.5,100.6 114.4,99.4 116.9,100.6 120.0,103.1 121.2,106.2 123.8,110.0 127.5,113.8 131.2,116.9 135.0,120.0 139.4,122.5 142.5,125.6 144.4,123.8 147.5,122.5 150.6,121.9 153.8,123.1 156.9,123.8 159.4,123.1 160.0,120.0 161.2,116.9 163.8,114.4 166.9,114.0 170.0,115.0 171.9,116.9 170.6,119.4 171.2,122.5 172.5,125.0 173.1,127.5 171.2,130.0 168.8,131.9 167.5,134.4 168.8,137.5 170.6,140.0 172.5,142.5 174.4,145.0 176.2,148.1 177.5,151.2 178.1,153.8 178.8,157.5 176.9,161.2 178.8,163.8 181.9,165.6 184.4,167.5 184.4,171.2 185.6,175.0 186.9,178.1 190.0,180.0 191.9,181.9 192.5,185.6 191.9,189.4 190.6,193.1 188.1,195.6 186.2,198.1 187.5,201.2 189.4,203.8 192.5,203.1 195.6,203.8 197.5,206.2 198.1,208.8 199.4,211.9 199.4,216.2 198.8,220.0 200.0,223.1 201.9,225.6 201.2,228.8 200.0,230.6 199.4,233.1 201.2,236.2 202.5,239.4 201.9,242.5 201.2,245.0 203.8,246.9 206.9,248.1 209.4,250.0 211.2,251.9 211.9,253.1 216.9,254.4 217.2,258.8 216.9,263.1 218.1,267.5 219.4,269.4 220.6,266.9 221.2,262.5 221.9,258.8 223.1,257.5 223.8,260.6 226.9,260.0 229.4,258.1 231.9,256.0 233.8,257.5 236.2,260.0 239.4,261.2 242.5,262.5 245.0,265.0 246.9,268.1 249.4,270.6 251.2,273.1 253.1,275.6 254.4,277.8 257.5,277.2 261.2,276.2 264.4,275.0 266.9,273.1 268.8,269.4 269.4,268.1 270.6,270.6 271.9,274.4 273.1,278.1 275.0,281.9 274.4,285.0 273.1,288.1 271.9,291.9 271.2,295.0 269.4,294.4 266.2,295.0 263.8,296.2 262.5,299.4 261.9,302.5 261.2,305.6 261.9,309.4 261.2,313.1 259.4,315.6 260.0,318.8 258.8,321.9 256.9,324.4 254.4,326.9 251.9,325.0 249.4,324.4 247.5,327.5 245.0,330.0 241.9,331.9 238.8,333.8 235.6,334.4 232.5,333.1 230.6,331.2 229.4,333.1 227.5,336.2 223.8,336.9 220.0,336.9 216.2,337.5 213.1,338.8 210.6,340.6 207.5,338.1 204.4,339.4 202.5,341.9 203.8,345.0 205.6,348.1 205.0,351.2 200.6,353.8 196.9,356.2 193.8,359.0 191.2,360.0 187.5,360.6 183.8,361.2 183.1,364.4 181.2,366.9 177.5,367.5 173.8,368.8 170.6,370.0 172.5,373.1 175.0,375.6 176.2,378.1 173.8,379.4 170.0,380.6 167.5,383.1 164.4,385.0 161.2,386.2 158.8,385.0 157.5,381.9 155.6,379.4 153.1,380.6 152.5,384.4 151.2,388.1 151.9,391.9 151.2,395.0 149.4,397.5 146.9,399.4 143.8,401.2 140.6,403.1 138.1,405.6 136.2,408.1 134.4,406.9 133.1,404.4 132.5,401.2 130.6,398.8 126.9,398.1 123.1,398.8 120.0,399.4 121.9,396.9 122.5,393.8 120.6,391.9 116.9,392.5 113.8,391.9 112.5,388.1 113.8,384.4 112.5,381.2 114.4,378.1 113.8,375.6 111.2,373.8 108.1,373.5 105.6,375.0 103.1,377.5 100.6,379.8 98.8,378.1 95.6,376.2 92.5,375.6 88.8,376.2 88.1,373.8 85.0,371.2 85.6,368.1 83.1,365.0 84.4,360.6 82.5,357.5 78.8,355.6 76.2,351.9 76.9,347.5 75.0,344.4 76.9,340.0 73.8,337.5 71.2,335.6 68.8,333.1 66.2,331.2 63.8,329.4 61.2,328.1 58.8,329.4 56.2,331.9 53.8,333.8 51.9,334.4 50.0,331.9 47.5,333.1 43.1,333.8 38.8,335.6 35.6,336.9 33.8,334.4 31.2,332.5 28.1,330.6 25.0,328.8 21.9,327.5 18.8,326.2 16.9,323.1 14.4,321.2 15.0,319.4 17.5,316.9 20.0,314.4 21.9,311.2 23.8,308.1 22.5,305.0 18.8,303.1 15.0,301.9 12.5,299.4 11.9,296.2 10.6,292.5 10.0,289.4 7.5,288.1 6.2,286.2 8.8,283.8 11.2,281.2 13.8,278.8 16.9,276.9 18.8,274.4 17.5,271.2 15.0,269.4 13.8,266.2 14.4,262.5 15.6,258.8 16.9,255.0 16.2,251.2 16.9,247.5 18.1,243.8 19.4,240.0 20.6,236.2 21.2,233.1 20.0,229.4 18.1,226.9 16.2,225.0 15.0,227.5 13.1,228.1 11.2,225.0 10.0,221.9 11.2,219.4 10.6,216.2 9.4,213.1 8.1,210.0 9.4,207.5 10.0,204.4 11.9,201.9 15.0,200.0 18.8,198.1 21.2,196.2 25.0,195.6 28.8,195.6 29.4,191.2 30.6,187.5 31.2,182.5 30.0,179.4 30.6,176.9 32.5,175.6 35.6,176.9 38.8,178.8 41.9,178.8 44.4,176.2 46.9,174.4 50.0,174.4 53.1,172.5 56.2,170.6 60.0,168.8 63.1,167.5 63.8,166.2 65.6,163.1 63.1,160.6 60.6,159.4 58.8,161.9 58.1,164.4 55.6,165.6 52.5,165.0 49.4,163.8 47.5,161.9 48.1,160.0 48.8,156.9 48.1,153.8 47.5,150.6 45.6,147.5 43.8,145.0 41.2,144.4 38.1,145.0 36.2,143.1 36.2,140.0 36.9,136.9 34.4,135.0 31.2,136.2 28.1,135.6 26.9,133.1 27.5,130.6 30.0,128.8" fill="#6e6e6e"/>
<polygon points="99.4,79.4 101.2,77.8 103.1,78.8 104.0,81.2 103.1,82.5 101.2,81.5 100.0,80.6" fill="#6e6e6e"/>
<polygon points="81.9,186.9 83.8,183.8 81.9,180.6 81.9,178.8 85.0,177.5 88.8,175.6 91.9,176.9 95.0,178.8 96.9,175.6 97.5,172.5 100.6,170.6 102.5,166.9 104.4,165.0 107.5,165.6 109.4,168.1 112.5,169.4 115.6,170.6 116.2,173.8 114.4,176.2 113.1,178.1 115.6,180.6 118.8,181.9 121.9,183.1 125.0,182.5 127.5,184.4 129.4,186.9 131.9,186.2 132.5,189.4 131.9,192.5 131.2,195.0 132.5,198.1 133.8,200.0 131.2,201.2 128.8,202.5 128.1,205.6 126.9,208.8 125.6,212.5 124.4,216.2 121.2,216.9 121.9,220.6 121.2,223.8 120.0,220.6 116.9,221.2 114.4,219.4 113.1,216.9 111.9,219.4 110.0,221.9 107.5,223.8 108.1,226.2 108.8,229.4 106.9,231.2 105.6,233.8 106.9,235.6 103.1,235.6 100.0,235.0 97.5,235.6 96.9,238.8 97.5,241.5 96.9,242.5 93.8,241.9 92.5,238.8 90.6,235.6 88.8,233.1 85.6,231.9 83.1,229.4 80.6,231.2 77.5,232.5 75.0,231.9 72.5,233.1 72.5,235.0 72.5,238.1 73.1,240.6 70.0,240.0 66.2,240.6 62.5,241.2 59.4,240.6 60.0,238.8 61.9,237.5 60.6,235.0 59.4,233.1 60.6,230.0 63.8,228.8 62.5,226.2 61.2,223.8 64.4,222.5 68.1,223.8 71.2,225.6 73.8,227.5 76.2,225.6 76.9,222.5 75.6,219.4 74.4,216.9 75.0,213.8 73.1,210.6 73.8,207.5 76.2,205.0 77.5,202.5 76.2,199.4 74.4,196.9 75.6,194.4 76.9,191.2 78.8,189.4 81.9,186.9" fill="#b40051" stroke="#b40051" stroke-width="0.4"/>
<polygon points="30.6,176.9 32.5,175.6 35.6,176.9 38.8,178.8 41.9,178.8 44.4,176.2 46.9,174.4 50.0,174.4 53.1,172.5 56.2,170.6 60.0,168.8 63.1,167.5 63.1,171.2 61.9,175.0 60.6,178.8 61.2,182.5 57.5,183.8 53.8,184.4 50.6,182.5 48.1,181.2 45.6,183.1 46.2,186.2 44.4,190.0 43.1,193.8 41.9,197.5 40.0,202.5 36.2,200.0 32.5,197.5 28.8,195.6 29.4,191.2 30.6,187.5 31.2,182.5 30.0,179.4" fill="#3408b4" stroke="#3408b4" stroke-width="0.4"/>
<polygon points="30.6,176.9 32.5,175.6 35.6,176.9 38.8,178.8 41.9,178.8 44.4,176.2 46.9,174.4 50.0,174.4 53.1,172.5 56.2,170.6 60.0,168.8 63.1,167.5 63.1,171.2 61.9,175.0 60.6,178.8 61.2,182.5 57.5,183.8 53.8,184.4 50.6,182.5 48.1,181.2 45.6,183.1 46.2,186.2 44.4,190.0 43.1,193.8 41.9,197.5 40.0,202.5 36.2,200.0 32.5,197.5 28.8,195.6 29.4,191.2 30.6,187.5 31.2,182.5 30.0,179.4" fill="#3408b4" stroke="#3408b4" stroke-width="0.4"/>
<polygon points="43.8,275.6 47.8,271.6 51.8,272.6 54.8,274.6 58.8,272.6 62.8,274.6 63.9,279.6 61.8,283.6 57.8,285.6 53.8,288.6 51.8,289.6 48.8,286.6 45.7,282.6 44.8,278.6" fill="#3408b4" stroke="#3408b4" stroke-width="0.4"/>
<polygon points="81.9,186.9 78.8,189.4 76.9,191.2 75.6,194.4 74.4,196.9 76.2,199.4 77.5,202.5 76.2,205.0 73.8,207.5 73.1,210.6 75.0,213.8 74.4,216.9 75.6,219.4 76.9,222.5 76.2,225.6 73.8,227.5 76.2,226.2 80.0,222.5 83.8,216.2 87.5,210.0 86.2,202.5 87.5,195.0 85.0,191.2" fill="#9005af" stroke="#9005af" stroke-width="0.4"/>
<polygon points="113.1,216.9 114.4,219.4 116.9,221.2 120.0,220.6 121.2,223.8 122.5,226.2 120.0,227.5 118.1,229.4 116.9,231.9 117.5,235.0 115.6,237.5 113.8,240.0 111.9,238.1 109.4,236.9 106.9,235.6 105.6,233.8 106.9,231.2 108.8,229.4 108.1,226.2 107.5,223.8 110.0,221.9 111.9,219.4" fill="#3408b4" stroke="#3408b4" stroke-width="0.4"/>
<polygon points="121.2,216.9 123.8,216.0 127.5,216.2 131.2,215.6 134.4,217.5 135.6,220.0 134.4,223.1 133.1,225.0 131.2,226.9 131.9,230.0 128.8,229.4 125.6,227.5 122.5,226.2 121.2,223.8 121.9,220.6" fill="#b10016" stroke="#b10016" stroke-width="0.4"/>
<polygon points="97.5,235.6 100.0,235.0 103.1,235.6 106.9,235.6 109.4,236.9 111.9,238.1 113.8,240.0 113.8,241.2 115.6,243.8 117.5,246.2 118.1,248.8 116.2,250.0 113.8,250.6 111.2,250.0 109.4,251.2 107.5,253.1 106.9,256.2 105.0,257.5 103.1,255.0 103.8,251.9 104.4,248.8 102.5,246.2 100.0,244.4 98.1,241.9 96.9,238.8" fill="#b30040" stroke="#b30040" stroke-width="0.4"/>
<polygon points="108.1,250.6 111.2,250.0 113.8,250.6 116.2,250.0 118.1,251.9 119.4,253.1 119.4,255.6 118.8,259.4 116.2,261.2 115.0,263.8 116.9,266.9 116.2,270.0 114.4,272.5 112.5,275.0 111.2,276.9 108.8,274.4 106.2,271.9 103.8,271.2 101.9,269.4 101.2,266.2 100.0,263.1 99.4,260.0 102.5,258.8 105.0,257.5 106.9,256.2 107.5,253.1" fill="#a4019f" stroke="#a4019f" stroke-width="0.4"/>
<polygon points="101.2,273.8 102.5,271.9 106.2,271.9 108.8,274.4 111.2,276.9 113.8,278.8 116.9,278.1 119.4,280.6 121.9,283.8 124.4,285.0 125.6,288.8 124.4,291.9 125.0,295.0 124.4,298.8 125.6,302.5 127.5,306.0 124.0,310.0 120.0,314.0 116.0,319.0 112.5,322.5 109.0,320.0 107.5,325.0 104.0,325.5 102.5,320.0 100.0,316.0 101.0,311.0 97.5,309.0 92.5,306.0 89.0,306.0 86.0,302.5 85.6,300.0 87.5,297.5 90.0,296.2 93.1,295.6 95.6,294.4 96.9,291.2 98.1,288.1 100.0,285.6 102.5,283.8 105.0,281.9 104.4,278.8 102.5,276.2" fill="#b92406" stroke="#b92406" stroke-width="0.4"/>
<polygon points="135.6,333.8 138.8,333.1 142.5,333.8 146.2,333.1 149.4,330.6 150.6,327.5 151.9,325.0 154.4,326.2 157.5,328.8 160.6,331.2 163.8,333.8 166.9,336.2 169.4,339.4 171.2,342.5 172.5,345.6 174.4,348.8 176.2,351.9 178.1,355.0 181.2,355.6 183.8,355.0 184.4,358.1 183.8,361.2 183.1,364.4 181.2,366.9 177.5,367.5 173.8,368.8 170.6,370.0 168.1,366.2 165.0,364.4 161.2,364.4 157.5,365.0 155.0,366.2 153.1,368.1 151.9,365.6 149.4,363.1 146.9,360.6 145.0,358.1 143.1,355.6 140.6,354.4 141.2,351.2 141.9,348.1 140.6,345.0 140.0,341.9 140.6,338.8 138.8,336.2" fill="#1faa5e" stroke="#1faa5e" stroke-width="0.4"/>
<polygon points="53.1,211.9 51.9,215.0 49.4,216.9 46.9,219.4 45.0,221.2 45.6,224.4 44.4,227.5 40.6,230.0 41.9,233.1 42.5,236.2 40.6,239.4 39.4,241.2 41.9,242.5 45.0,244.4 48.1,243.1 50.0,241.9 53.1,244.4 54.4,246.2 56.2,243.8 56.9,241.2 59.4,240.6 60.0,238.8 61.9,237.5 60.6,235.0 59.4,233.1 60.6,230.0 63.8,228.8 62.5,226.2 61.2,223.8 60.0,221.9 57.5,223.1 55.0,222.5 53.1,221.2 52.8,217.5 53.5,214.4" fill="none" stroke="#000" stroke-width="2.0" stroke-linejoin="round"/>
<polygon points="39.4,241.2 41.9,242.5 45.0,244.4 48.1,243.1 50.0,241.9 53.1,244.4 54.4,246.2 56.2,243.8 56.9,241.2 59.4,240.6 62.5,241.2 66.2,240.6 70.0,240.0 73.1,240.6 72.5,243.1 73.8,245.6 76.2,247.5 73.8,248.8 71.2,250.0 68.8,251.9 66.9,254.4 66.2,256.9 63.8,257.5 60.6,256.9 57.5,257.5 55.6,258.1 53.8,256.2 51.2,256.9 48.1,257.5 45.0,256.9 41.9,258.1 38.8,258.8 36.9,258.1 37.5,255.0 38.1,251.9 36.9,249.4 38.1,246.2 38.8,243.8" fill="none" stroke="#000" stroke-width="2.0" stroke-linejoin="round"/>
<text x="96.2" y="206.4" font-size="8.4" text-anchor="middle" fill="#101010" stroke="#101010" stroke-width="0.15">48</text>
<text x="36.9" y="192.7" font-size="8.4" text-anchor="middle" fill="#101010" stroke="#101010" stroke-width="0.15">1</text>
<text x="52.5" y="179.4" font-size="8.4" text-anchor="middle" fill="#101010" stroke="#101010" stroke-width="0.15">65</text>
<text x="52.0" y="285.9" font-size="8.4" text-anchor="middle" fill="#101010" stroke="#101010" stroke-width="0.15">87</text>
<text x="81.2" y="210.4" font-size="8.4" text-anchor="middle" fill="#101010" stroke="#101010" stroke-width="0.15">84</text>
<text x="113.8" y="231.7" font-size="8.4" text-anchor="middle" fill="#101010" stroke="#101010" stroke-width="0.15">89</text>
<text x="128.5" y="226.3" font-size="8.4" text-anchor="middle" fill="#101010" stroke="#101010" stroke-width="0.15">29</text>
<text x="107.5" y="249.2" font-size="8.4" text-anchor="middle" fill="#101010" stroke="#101010" stroke-width="0.15">92</text>
<text x="100.6" y="273.5" font-size="8.4" text-anchor="middle" fill="#101010" stroke="#101010" stroke-width="0.15">36</text>
<text x="106.2" y="302.3" font-size="8.4" text-anchor="middle" fill="#101010" stroke="#101010" stroke-width="0.15">79</text>
<text x="160.0" y="350.4" font-size="8.4" text-anchor="middle" fill="#101010" stroke="#101010" stroke-width="0.15">71</text></g>
<defs><linearGradient id="hot" x1="0" y1="0" x2="0" y2="1">
<stop offset="0.000" stop-color="#ac0098"/>
<stop offset="0.200" stop-color="#b40050"/>
<stop offset="0.400" stop-color="#b00000"/>
<stop offset="0.460" stop-color="#b40303"/>
<stop offset="0.600" stop-color="#be4b0a"/>
<stop offset="0.800" stop-color="#c0a214"/>
<stop offset="0.900" stop-color="#aca660"/>
<stop offset="1.000" stop-color="#a0a0a0"/>
</linearGradient><linearGradient id="cold" x1="0" y1="0" x2="0" y2="1">
<stop offset="0.000" stop-color="#a0a0a0"/>
<stop offset="0.200" stop-color="#8caa87"/>
<stop offset="0.400" stop-color="#64b064"/>
<stop offset="0.600" stop-color="#38b054"/>
<stop offset="0.800" stop-color="#28ac4e"/>
<stop offset="0.900" stop-color="#20aa5c"/>
<stop offset="1.000" stop-color="#18aa70"/>
</linearGradient></defs>
<rect x="478" y="72" width="9.5" height="124" fill="url(#hot)"/>
<rect x="475.7" y="302.4" width="9.3" height="124" fill="url(#cold)"/>
<line x1="487.5" x2="489.5" y1="72.0" y2="72.0" stroke="#888" stroke-width="0.5"/>
<text x="491.5" y="74.0" font-size="5.5" fill="#555">6</text>
<line x1="487.5" x2="489.5" y1="96.8" y2="96.8" stroke="#888" stroke-width="0.5"/>
<text x="491.5" y="98.8" font-size="5.5" fill="#555">5</text>
<line x1="487.5" x2="489.5" y1="121.6" y2="121.6" stroke="#888" stroke-width="0.5"/>
<text x="491.5" y="123.6" font-size="5.5" fill="#555">4</text>
<line x1="487.5" x2="489.5" y1="146.4" y2="146.4" stroke="#888" stroke-width="0.5"/>
<text x="491.5" y="148.4" font-size="5.5" fill="#555">3</text>
<line x1="487.5" x2="489.5" y1="171.2" y2="171.2" stroke="#888" stroke-width="0.5"/>
<text x="491.5" y="173.2" font-size="5.5" fill="#555">2</text>
<line x1="487.5" x2="489.5" y1="196.0" y2="196.0" stroke="#888" stroke-width="0.5"/>
<text x="491.5" y="198.0" font-size="5.5" fill="#555">1</text>
<line x1="485" x2="487" y1="302.4" y2="302.4" stroke="#888" stroke-width="0.5"/>
<text x="489.5" y="304.4" font-size="5.5" fill="#555">1.0</text>
<line x1="485" x2="487" y1="327.2" y2="327.2" stroke="#888" stroke-width="0.5"/>
<text x="489.5" y="329.2" font-size="5.5" fill="#555">0.8</text>
<line x1="485" x2="487" y1="352.0" y2="352.0" stroke="#888" stroke-width="0.5"/>
<text x="489.5" y="354.0" font-size="5.5" fill="#555">0.6</text>
<line x1="485" x2="487" y1="376.8" y2="376.8" stroke="#888" stroke-width="0.5"/>
<text x="489.5" y="378.8" font-size="5.5" fill="#555">0.4</text>
<line x1="485" x2="487" y1="401.6" y2="401.6" stroke="#888" stroke-width="0.5"/>
<text x="489.5" y="403.6" font-size="5.5" fill="#555">0.2</text>
<line x1="485" x2="487" y1="426.4" y2="426.4" stroke="#888" stroke-width="0.5"/>
<text x="489.5" y="428.4" font-size="5.5" fill="#555">0</text>
<line x1="487.5" x2="488.5" y1="77.0" y2="77.0" stroke="#aaa" stroke-width="0.4"/>
<line x1="485" x2="486" y1="307.4" y2="307.4" stroke="#aaa" stroke-width="0.4"/>
<line x1="487.5" x2="488.5" y1="81.9" y2="81.9" stroke="#aaa" stroke-width="0.4"/>
<line x1="485" x2="486" y1="312.3" y2="312.3" stroke="#aaa" stroke-width="0.4"/>
<line x1="487.5" x2="488.5" y1="86.9" y2="86.9" stroke="#aaa" stroke-width="0.4"/>
<line x1="485" x2="486" y1="317.3" y2="317.3" stroke="#aaa" stroke-width="0.4"/>
<line x1="487.5" x2="488.5" y1="91.8" y2="91.8" stroke="#aaa" stroke-width="0.4"/>
<line x1="485" x2="486" y1="322.2" y2="322.2" stroke="#aaa" stroke-width="0.4"/>
<line x1="487.5" x2="488.5" y1="101.8" y2="101.8" stroke="#aaa" stroke-width="0.4"/>
<line x1="485" x2="486" y1="332.2" y2="332.2" stroke="#aaa" stroke-width="0.4"/>
<line x1="487.5" x2="488.5" y1="106.7" y2="106.7" stroke="#aaa" stroke-width="0.4"/>
<line x1="485" x2="486" y1="337.1" y2="337.1" stroke="#aaa" stroke-width="0.4"/>
<line x1="487.5" x2="488.5" y1="111.7" y2="111.7" stroke="#aaa" stroke-width="0.4"/>
<line x1="485" x2="486" y1="342.1" y2="342.1" stroke="#aaa" stroke-width="0.4"/>
<line x1="487.5" x2="488.5" y1="116.6" y2="116.6" stroke="#aaa" stroke-width="0.4"/>
<line x1="485" x2="486" y1="347.0" y2="347.0" stroke="#aaa" stroke-width="0.4"/>
<line x1="487.5" x2="488.5" y1="126.6" y2="126.6" stroke="#aaa" stroke-width="0.4"/>
<line x1="485" x2="486" y1="357.0" y2="357.0" stroke="#aaa" stroke-width="0.4"/>
<line x1="487.5" x2="488.5" y1="131.5" y2="131.5" stroke="#aaa" stroke-width="0.4"/>
<line x1="485" x2="486" y1="361.9" y2="361.9" stroke="#aaa" stroke-width="0.4"/>
<line x1="487.5" x2="488.5" y1="136.5" y2="136.5" stroke="#aaa" stroke-width="0.4"/>
<line x1="485" x2="486" y1="366.9" y2="366.9" stroke="#aaa" stroke-width="0.4"/>
<line x1="487.5" x2="488.5" y1="141.4" y2="141.4" stroke="#aaa" stroke-width="0.4"/>
<line x1="485" x2="486" y1="371.8" y2="371.8" stroke="#aaa" stroke-width="0.4"/>
<line x1="487.5" x2="488.5" y1="151.4" y2="151.4" stroke="#aaa" stroke-width="0.4"/>
<line x1="485" x2="486" y1="381.8" y2="381.8" stroke="#aaa" stroke-width="0.4"/>
<line x1="487.5" x2="488.5" y1="156.3" y2="156.3" stroke="#aaa" stroke-width="0.4"/>
<line x1="485" x2="486" y1="386.7" y2="386.7" stroke="#aaa" stroke-width="0.4"/>
<line x1="487.5" x2="488.5" y1="161.3" y2="161.3" stroke="#aaa" stroke-width="0.4"/>
<line x1="485" x2="486" y1="391.7" y2="391.7" stroke="#aaa" stroke-width="0.4"/>
<line x1="487.5" x2="488.5" y1="166.2" y2="166.2" stroke="#aaa" stroke-width="0.4"/>
<line x1="485" x2="486" y1="396.6" y2="396.6" stroke="#aaa" stroke-width="0.4"/>
<line x1="487.5" x2="488.5" y1="176.2" y2="176.2" stroke="#aaa" stroke-width="0.4"/>
<line x1="485" x2="486" y1="406.6" y2="406.6" stroke="#aaa" stroke-width="0.4"/>
<line x1="487.5" x2="488.5" y1="181.1" y2="181.1" stroke="#aaa" stroke-width="0.4"/>
<line x1="485" x2="486" y1="411.5" y2="411.5" stroke="#aaa" stroke-width="0.4"/>
<line x1="487.5" x2="488.5" y1="186.1" y2="186.1" stroke="#aaa" stroke-width="0.4"/>
<line x1="485" x2="486" y1="416.5" y2="416.5" stroke="#aaa" stroke-width="0.4"/>
<line x1="487.5" x2="488.5" y1="191.0" y2="191.0" stroke="#aaa" stroke-width="0.4"/>
<line x1="485" x2="486" y1="421.4" y2="421.4" stroke="#aaa" stroke-width="0.4"/>
<text x="475.5" y="65.4" font-size="10" letter-spacing="-0.4" font-weight="bold" fill="#111">R&gt;1</text>
<text x="475.7" y="296.2" font-size="10" letter-spacing="-0.4" font-weight="bold" fill="#111">R&lt;1</text>
<rect x="502.3" y="19" width="11.7" height="20" fill="#3408b4"/>
<rect x="502.3" y="39" width="11.7" height="20" fill="#3408b4"/>
<rect x="502.3" y="59" width="11.7" height="21" fill="#7808b8"/>
<rect x="502.3" y="80" width="11.7" height="20" fill="#aa009a"/>
<rect x="502.3" y="100" width="11.7" height="20" fill="#aa009a"/>
<rect x="502.3" y="120" width="11.7" height="20" fill="#ad0090"/>
<rect x="502.3" y="140" width="11.7" height="20" fill="#ad008c"/>
<rect x="502.3" y="160" width="11.7" height="21" fill="#af007d"/>
<rect x="502.3" y="181" width="11.7" height="20" fill="#b3005c"/>
<rect x="502.3" y="201" width="11.7" height="20" fill="#b3005c"/>
<rect x="502.3" y="221" width="11.7" height="20" fill="#b40051"/>
<rect x="502.3" y="241" width="11.7" height="20" fill="#b40048"/>
<rect x="502.3" y="261" width="11.7" height="21" fill="#b00000"/>
<rect x="502.3" y="282" width="11.7" height="20" fill="#b20202"/>
<rect x="502.3" y="302" width="11.7" height="20" fill="#b40503"/>
<rect x="502.3" y="322" width="11.7" height="20" fill="#bb3808"/>
<rect x="502.3" y="342" width="11.7" height="20" fill="#be610c"/>
<rect x="502.3" y="362" width="11.7" height="21" fill="#bf6f0e"/>
<rect x="502.3" y="383" width="11.7" height="20" fill="#24ab55"/>
<rect x="502.3" y="403" width="11.7" height="20" fill="#1eaa60"/>
<rect x="502.3" y="423" width="11.7" height="20" fill="#18aa70"/>
<rect x="502.3" y="443" width="11.7" height="20" fill="#18aa70"/>
</svg>
<svg width="800" height="472" viewBox="0 0 800 472" style="position:absolute;left:0;top:0" font-family="Liberation Sans, Arial, sans-serif" fill="#383838"><text x="134.5" y="10.5" font-size="13.3" letter-spacing="0.45">Encounter for extracorporeal dialysis</text><text x="363" y="21.8" font-size="10.8" letter-spacing="0.1">Male</text><text x="357" y="252.5" font-size="10.7" letter-spacing="-0.02">Female</text></svg>
<div class="t h" style="left:541.4px;top:1.5px">Municipality</div>
<div class="t h" style="left:695px;top:1.5px">M+F</div>
<div class="t h" style="left:735px;top:1.5px">M</div>
<div class="t h" style="left:767.3px;top:1.5px">F</div>
<div class="t" style="left:519px;top:21.6px">65</div>
<div class="t" style="left:541.5px;top:21.6px">Lisciano Niccone</div>
<div class="t" style="left:695.5px;top:21.6px">13.47</div>
<div class="t" style="left:735px;top:21.6px">0.</div>
<div class="t" style="left:767.3px;top:21.6px">33.66</div>
<div class="t" style="left:519px;top:41.8px">1</div>
<div class="t" style="left:541.5px;top:41.8px">Tuoro sul Trasimeno</div>
<div class="t" style="left:695.5px;top:41.8px">8.19</div>
<div class="t" style="left:735px;top:41.8px">3.9</div>
<div class="t" style="left:767.3px;top:41.8px">14.38</div>
<div class="t" style="left:519px;top:62.0px">89</div>
<div class="t" style="left:541.5px;top:62.0px">Torgiano</div>
<div class="t" style="left:695.5px;top:62.0px">7.07</div>
<div class="t" style="left:735px;top:62.0px">5.62</div>
<div class="t" style="left:767.3px;top:62.0px">9.2</div>
<div class="t" style="left:519px;top:82.2px">87</div>
<div class="t" style="left:541.5px;top:82.2px">Parrano</div>
<div class="t" style="left:695.5px;top:82.2px">6.05</div>
<div class="t" style="left:735px;top:82.2px">0.</div>
<div class="t" style="left:767.3px;top:82.2px">14.67</div>
<div class="t" style="left:519px;top:102.4px">48</div>
<div class="t" style="left:541.5px;top:102.4px">Perugia</div>
<div class="t" style="left:695.5px;top:102.4px">6.05</div>
<div class="t" style="left:735px;top:102.4px">6.83</div>
<div class="t" style="left:767.3px;top:102.4px">5.01</div>
<div class="t" style="left:519px;top:122.6px">22</div>
<div class="t" style="left:541.5px;top:122.6px">Bettona</div>
<div class="t" style="left:695.5px;top:122.6px">5.89</div>
<div class="t" style="left:735px;top:122.6px">6.28</div>
<div class="t" style="left:767.3px;top:122.6px">5.38</div>
<div class="t" style="left:519px;top:142.8px">84</div>
<div class="t" style="left:541.5px;top:142.8px">Corciano</div>
<div class="t" style="left:695.5px;top:142.8px">5.84</div>
<div class="t" style="left:735px;top:142.8px">5.28</div>
<div class="t" style="left:767.3px;top:142.8px">6.65</div>
<div class="t" style="left:519px;top:163.0px">76</div>
<div class="t" style="left:541.5px;top:163.0px">Ficulle</div>
<div class="t" style="left:695.5px;top:163.0px">5.62</div>
<div class="t" style="left:735px;top:163.0px">9.19</div>
<div class="t" style="left:767.3px;top:163.0px">0.</div>
<div class="t" style="left:519px;top:183.2px">3</div>
<div class="t" style="left:541.5px;top:183.2px">Porano</div>
<div class="t" style="left:695.5px;top:183.2px">5.17</div>
<div class="t" style="left:735px;top:183.2px">3.9</div>
<div class="t" style="left:767.3px;top:183.2px">7.</div>
<div class="t" style="left:519px;top:203.4px">46</div>
<div class="t" style="left:541.5px;top:203.4px">Panicale</div>
<div class="t" style="left:695.5px;top:203.4px">5.16</div>
<div class="t" style="left:735px;top:203.4px">7.2</div>
<div class="t" style="left:767.3px;top:203.4px">2.12</div>
<div class="t" style="left:519px;top:223.6px">36</div>
<div class="t" style="left:541.5px;top:223.6px">Collazzone</div>
<div class="t" style="left:695.5px;top:223.6px">5.01</div>
<div class="t" style="left:735px;top:223.6px">4.2</div>
<div class="t" style="left:767.3px;top:223.6px">6.19</div>
<div class="t" style="left:519px;top:243.8px">72</div>
<div class="t" style="left:541.5px;top:243.8px">Piegaro</div>
<div class="t" style="left:695.5px;top:243.8px">4.9</div>
<div class="t" style="left:735px;top:243.8px">4.36</div>
<div class="t" style="left:767.3px;top:243.8px">5.7</div>
<div class="t" style="left:519px;top:264.0px">41</div>
<div class="t" style="left:541.5px;top:264.0px">Magione</div>
<div class="t" style="left:695.5px;top:264.0px">3.98</div>
<div class="t" style="left:735px;top:264.0px">5.11</div>
<div class="t" style="left:767.3px;top:264.0px">2.3</div>
<div class="t" style="left:519px;top:284.2px">92</div>
<div class="t" style="left:541.5px;top:284.2px">Deruta</div>
<div class="t" style="left:695.5px;top:284.2px">3.83</div>
<div class="t" style="left:735px;top:284.2px">3.17</div>
<div class="t" style="left:767.3px;top:284.2px">4.8</div>
<div class="t" style="left:519px;top:304.4px">44</div>
<div class="t" style="left:541.5px;top:304.4px">Passignano sul Trasimeno</div>
<div class="t" style="left:695.5px;top:304.4px">3.68</div>
<div class="t" style="left:735px;top:304.4px">4.76</div>
<div class="t" style="left:767.3px;top:304.4px">2.11</div>
<div class="t" style="left:519px;top:324.6px">79</div>
<div class="t" style="left:541.5px;top:324.6px">Todi</div>
<div class="t" style="left:695.5px;top:324.6px">3.18</div>
<div class="t" style="left:735px;top:324.6px">3.03</div>
<div class="t" style="left:767.3px;top:324.6px">3.38</div>
<div class="t" style="left:519px;top:344.8px">83</div>
<div class="t" style="left:541.5px;top:344.8px">Marsciano</div>
<div class="t" style="left:695.5px;top:344.8px">2.75</div>
<div class="t" style="left:735px;top:344.8px">3.85</div>
<div class="t" style="left:767.3px;top:344.8px">1.12</div>
<div class="t" style="left:519px;top:365.0px">29</div>
<div class="t" style="left:541.5px;top:365.0px">Bastia Umbra</div>
<div class="t" style="left:695.5px;top:365.0px">2.59</div>
<div class="t" style="left:735px;top:365.0px">1.44</div>
<div class="t" style="left:767.3px;top:365.0px">4.27</div>
<div class="t" style="left:519px;top:385.2px">71</div>
<div class="t" style="left:541.5px;top:385.2px">Terni</div>
<div class="t" style="left:695.5px;top:385.2px">0.15</div>
<div class="t" style="left:735px;top:385.2px">0.2</div>
<div class="t" style="left:767.3px;top:385.2px">0.09</div>
<div class="t" style="left:519px;top:405.4px">82</div>
<div class="t" style="left:541.5px;top:405.4px">Foligno</div>
<div class="t" style="left:695.5px;top:405.4px">0.08</div>
<div class="t" style="left:735px;top:405.4px">0.14</div>
<div class="t" style="left:767.3px;top:405.4px">0.</div>
<div class="t" style="left:519px;top:425.6px">91</div>
<div class="t" style="left:541.5px;top:425.6px">Spoleto</div>
<div class="t" style="left:695.5px;top:425.6px">0.</div>
<div class="t" style="left:735px;top:425.6px">0.</div>
<div class="t" style="left:767.3px;top:425.6px">0.</div>
<div class="t" style="left:519px;top:445.8px">64</div>
<div class="t" style="left:541.5px;top:445.8px">Gubbio</div>
<div class="t" style="left:695.5px;top:445.8px">0.</div>
<div class="t" style="left:735px;top:445.8px">0.</div>
<div class="t" style="left:767.3px;top:445.8px">0.</div>
</body></html>
